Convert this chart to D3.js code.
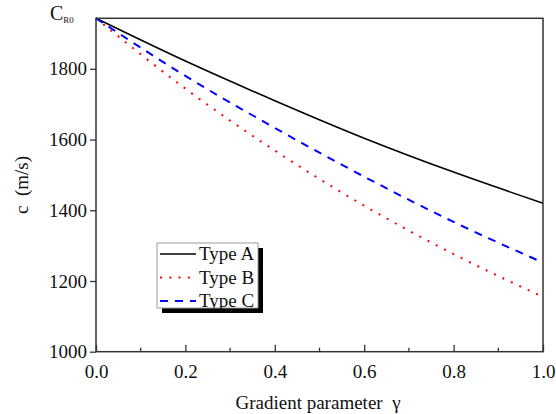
<!DOCTYPE html>
<html>
<head>
<meta charset="utf-8">
<style>
  body { margin: 0; background: #fff; }
  svg text { font-family: "Liberation Serif", "Times New Roman", "DejaVu Serif", serif !important; }
</style>
</head>
<body>
<svg width="556" height="414"></svg>
<script src="https://d3js.org/d3.v7.min.js"></script>
<script>
// values
const gamma = [0.0, 0.2, 0.4, 0.6, 0.8, 1.0];
const typeA = [1943, 1822, 1710, 1604, 1508, 1420];
const typeB = [1943, 1744, 1569, 1413, 1276, 1155];
const typeC = [1943, 1780, 1633, 1495, 1367, 1252];
const seriesNames = ["Type A", "Type B", "Type C"];
const xTicks = [0, 0.2, 0.4, 0.6, 0.8, 1.0];
const xMinor = [0.1, 0.3, 0.5, 0.7, 0.9];
const yTicks = [1000, 1200, 1400, 1600, 1800];

const svg = d3.select("svg");
const plotL = 96, plotR = 543, plotT = 18.3, plotB = 351.7;

const x = d3.scaleLinear().domain([0, 1]).range([plotL, plotR]);
const y = d3.scaleLinear().domain([1000, 1943]).range([plotB, plotT]);

const styles = [
    { color: "#000", dash: null, width: 1.6 },
    { color: "#f00", dash: "2,7.3", width: 2 },
    { color: "#00f", dash: "8,7", width: 2 }
];
const series = [typeA, typeB, typeC];

// curves
const line = d3.line()
    .x((d, i) => x(gamma[i]))
    .y(d => y(d))
    .curve(d3.curveMonotoneX);

const g = svg.append("g");
series.forEach((s, k) => {
    g.append("path")
        .attr("d", line(s))
        .attr("fill", "none")
        .attr("stroke", styles[k].color)
        .attr("stroke-width", styles[k].width)
        .attr("stroke-dasharray", styles[k].dash);
});

// frame
svg.append("rect")
    .attr("x", plotL).attr("y", plotT)
    .attr("width", plotR - plotL).attr("height", plotB - plotT)
    .attr("fill", "none")
    .attr("stroke", "#333")
    .attr("stroke-width", 1.5);

// y axis (ticks outward)
const yAxis = svg.append("g")
    .attr("transform", `translate(${plotL},0)`)
    .call(d3.axisLeft(y).tickValues(yTicks).tickSize(6).tickPadding(3).tickFormat(d3.format("d")));
yAxis.select(".domain").remove();
yAxis.selectAll("line").attr("stroke", "#333").attr("stroke-width", 1.3);
yAxis.selectAll("text").attr("font-size", 19).attr("fill", "#111");

// x axis (ticks inward)
const xAxis = svg.append("g")
    .attr("transform", `translate(0,${plotB})`)
    .call(d3.axisBottom(x).tickValues(xTicks).tickSize(-7).tickPadding(13).tickFormat(d3.format(".1f")));
xAxis.select(".domain").remove();
xAxis.selectAll("line").attr("stroke", "#333").attr("stroke-width", 1.3);
xAxis.selectAll("text").attr("font-size", 19).attr("fill", "#111");

svg.append("g").selectAll("line")
    .data(xMinor)
    .join("line")
    .attr("x1", d => x(d)).attr("x2", d => x(d))
    .attr("y1", plotB).attr("y2", plotB - 4)
    .attr("stroke", "#333").attr("stroke-width", 1.3);

// axis titles
svg.append("text")
    .attr("x", 318).attr("y", 409)
    .attr("text-anchor", "middle")
    .attr("font-size", 19)
    .attr("fill", "#111")
    .attr("xml:space", "preserve")
    .text("Gradient parameter  γ");

svg.append("text")
    .attr("transform", "translate(28,185) rotate(-90)")
    .attr("text-anchor", "middle")
    .attr("font-size", 19)
    .attr("fill", "#111")
    .attr("xml:space", "preserve")
    .text("c  (m/s)");

// C_R0 label
const cr = svg.append("text")
    .attr("x", 50).attr("y", 20)
    .attr("font-size", 20)
    .attr("fill", "#111");
cr.append("tspan").text("C");
cr.append("tspan").attr("font-size", 9).attr("dy", 3).text("R0");

// legend
const lx = 157, ly = 243, lw = 101, lh = 65;
svg.append("rect")
    .attr("x", lx + 5).attr("y", ly + 5)
    .attr("width", lw).attr("height", lh)
    .attr("fill", "#000");
svg.append("rect")
    .attr("x", lx).attr("y", ly)
    .attr("width", lw).attr("height", lh)
    .attr("fill", "#fff")
    .attr("stroke", "#999")
    .attr("stroke-width", 1);

const leg = svg.append("g").selectAll("g")
    .data(seriesNames)
    .join("g")
    .attr("transform", (d, i) => `translate(${lx},${ly + 11 + i * 23.5})`);
leg.append("line")
    .attr("x1", 3).attr("x2", 39)
    .attr("stroke", (d, i) => styles[i].color)
    .attr("stroke-width", (d, i) => styles[i].width)
    .attr("stroke-dasharray", (d, i) => styles[i].dash);
leg.append("text")
    .attr("x", 42).attr("dy", "0.33em")
    .attr("font-size", 19)
    .attr("fill", "#111")
    .text(d => d);
</script>
</body>
</html>
